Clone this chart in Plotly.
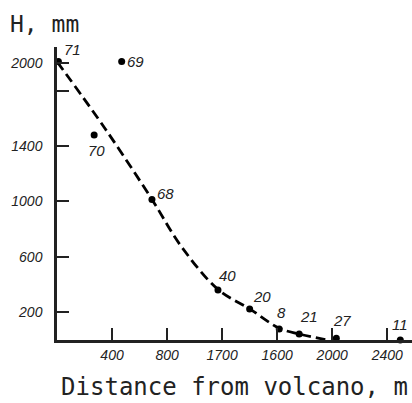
import plotly.graph_objects as go

# Data points (distance from volcano, m ; thickness H, mm ; sample label)
dist = [10, 470, 270, 690, 1170, 1400, 1615, 1760, 2030, 2495]
height = [2010, 2010, 1480, 1015, 361, 224, 80, 43, 12, 0]
labels = ["71", "69", "70", "68", "40", "20", "8", "21", "27", "11"]

# Dashed fitted curve
curve_x = [0, 350, 690, 900, 1170, 1400, 1615, 1760, 1950]
curve_y = [2010, 1525, 1015, 680, 365, 225, 85, 43, 3]

x_tickvals = [400, 800, 1200, 1600, 2000, 2400]
x_ticktext = ["400", "800", "1700", "1600", "2000", "2400"]
y_tickvals = [200, 600, 1000, 1400, 1800, 2000]
y_ticktext = ["200", "600", "1000", "1400", "", "2000"]

# label offsets in pixels (style only)
label_offsets = [(14, 12), (14, 0), (2, -16), (14, 6), (10, 14), (12, 12), (2, 16), (10, 18), (6, 18), (0, 16)]

fig = go.Figure()
fig.add_trace(go.Scatter(
    x=curve_x, y=curve_y, mode="lines",
    line=dict(color="black", width=2.8, dash="10px,5px", shape="spline"),
    hoverinfo="skip", showlegend=False,
))
fig.add_trace(go.Scatter(
    x=dist, y=height, mode="markers",
    marker=dict(color="black", size=7),
    showlegend=False, cliponaxis=False,
))

for xv, yv, lab, (dx, dy) in zip(dist, height, labels, label_offsets):
    fig.add_annotation(
        x=xv, y=yv, text=lab, showarrow=False,
        xshift=dx, yshift=dy,
        font=dict(family="Liberation Sans", size=15, color="#222", style="italic"),
    )

fig.update_layout(
    width=412, height=403,
    margin=dict(l=57, r=0, t=47, b=63),
    paper_bgcolor="white", plot_bgcolor="white",
    font=dict(family="DejaVu Sans Mono", color="#222"),
)
fig.update_xaxes(
    range=[0, 2580], showgrid=False, zeroline=False,
    showline=True, linecolor="#222", linewidth=2.5,
    ticks="inside", ticklen=12, tickwidth=1.5, tickcolor="#222",
    tickvals=x_tickvals, ticktext=x_ticktext,
    tickfont=dict(family="Liberation Sans", size=14, style="italic", color="#222"),
    title=dict(text="Distance from volcano, m", font=dict(family="DejaVu Sans Mono", size=24, color="#222"), standoff=17),
)
fig.update_yaxes(
    range=[0, 2115], showgrid=False, zeroline=False,
    showline=True, linecolor="#222", linewidth=2.5,
    ticks="inside", ticklen=12, tickwidth=1.5, tickcolor="#222",
    tickvals=y_tickvals, ticktext=y_ticktext,
    tickfont=dict(family="Liberation Sans", size=14, style="italic", color="#222"),
    ticklabelstandoff=9,
)
fig.add_annotation(
    x=0, y=1, xref="paper", yref="paper", xanchor="left", yanchor="bottom",
    xshift=-49, yshift=8, text="H, mm", showarrow=False,
    font=dict(family="DejaVu Sans Mono", size=23, color="#222"),
)

fig.write_html("out.html")
